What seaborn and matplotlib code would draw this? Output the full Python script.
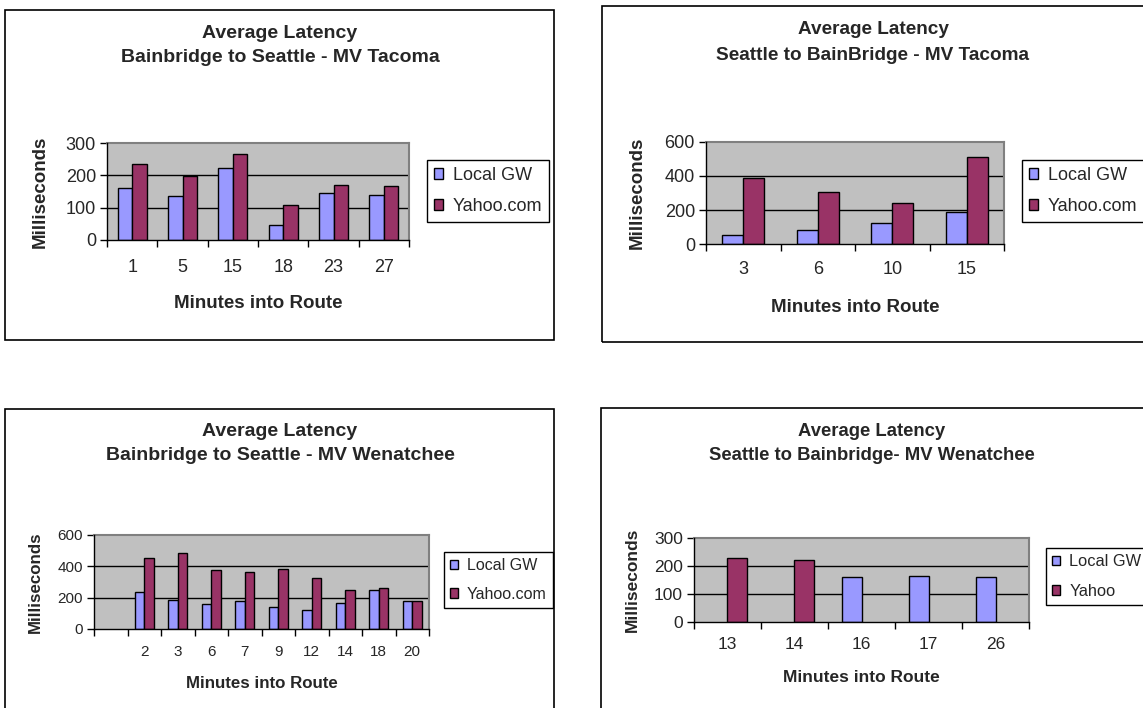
import numpy as np
import pandas as pd
import matplotlib
matplotlib.use("Agg")
import matplotlib.pyplot as plt
from matplotlib.patches import Patch, Rectangle
import seaborn as sns

nan = np.nan

# Bainbridge -> Seattle, MV Tacoma
tacoma_b2s_minutes = ["1", "5", "15", "18", "23", "27"]
tacoma_b2s_local = [160, 135, 223, 45, 145, 139]
tacoma_b2s_yahoo = [234, 197, 265, 108, 171, 166]

# Seattle -> Bainbridge, MV Tacoma
tacoma_s2b_minutes = ["3", "6", "10", "15"]
tacoma_s2b_local = [52, 85, 124, 186]
tacoma_s2b_yahoo = [391, 303, 243, 514]

# Bainbridge -> Seattle, MV Wenatchee (first slot is empty)
wen_b2s_minutes = ["", "2", "3", "6", "7", "9", "12", "14", "18", "20"]
wen_b2s_local = [nan, 236, 187, 162, 179, 139, 122, 168, 246, 179]
wen_b2s_yahoo = [nan, 451, 488, 377, 366, 383, 328, 246, 263, 179]

# Seattle -> Bainbridge, MV Wenatchee
wen_s2b_minutes = ["13", "14", "16", "17", "26"]
wen_s2b_local = [nan, nan, 162, 166, 162]
wen_s2b_yahoo = [229, 223, nan, nan, nan]

sns.set_theme(style="white")
plt.rcParams["font.family"] = ["Liberation Sans", "DejaVu Sans"]

W, H = 1143, 708
fig = plt.figure(figsize=(W / 100, H / 100), dpi=100)
fig.patch.set_facecolor("white")

LOCAL_C = "#9999FF"
YAHOO_C = "#993366"


def fx(x):
    return x / W


def fy(y):
    return 1 - y / H


def chart_box(x0, y0, x1, y1):
    fig.patches.append(Rectangle((fx(x0), fy(y1)), fx(x1 - x0), (y1 - y0) / H,
                                 transform=fig.transFigure, fill=False,
                                 edgecolor="black", linewidth=1.2, zorder=0))


def panel(rect, minutes, local, yahoo, names, ymax, ystep, title, title_xy,
          ylabel_x, xlabel_y, xtick_pad, legend_xy, tick_fs, leg_fs, lab_fs,
          title_fs, leg_spacing):
    x0, y0, x1, y1 = rect
    ax = fig.add_axes([fx(x0), fy(y1), fx(x1 - x0), (y1 - y0) / H])
    df = pd.DataFrame({
        "minute": minutes * 2,
        "ms": list(local) + list(yahoo),
        "series": [names[0]] * len(minutes) + [names[1]] * len(minutes),
    }).dropna()
    sns.barplot(data=df, x="minute", y="ms", hue="series", order=minutes,
                hue_order=names, palette=[LOCAL_C, YAHOO_C], width=0.57,
                dodge=True, edgecolor="black", linewidth=1.0, saturation=1,
                legend=False, errorbar=None, ax=ax, zorder=3)
    ax.set_facecolor("#C0C0C0")
    ax.set_ylim(0, ymax)
    ax.set_xlim(-0.5, len(minutes) - 0.5)
    ax.set_yticks(np.arange(0, ymax + 1, ystep))
    ax.grid(False)
    for v in np.arange(ystep, ymax, ystep):
        ax.axhline(v, color="black", linewidth=1.0, zorder=1)
    for side in ("top", "right"):
        ax.spines[side].set_color("#808080")
        ax.spines[side].set_linewidth(1.5)
    for side in ("left", "bottom"):
        ax.spines[side].set_color("black")
        ax.spines[side].set_linewidth(1.0)
        ax.spines[side].set_zorder(4)
    ax.tick_params(axis="y", direction="out", length=5, width=1, color="black",
                   labelsize=tick_fs, pad=3, left=True)
    ax.set_xticks(np.arange(-0.5, len(minutes), 1.0), minor=True)
    ax.tick_params(axis="x", which="minor", direction="out", length=5, width=1,
                   color="black", bottom=True)
    ax.tick_params(axis="x", which="major", length=0, labelsize=tick_fs,
                   pad=xtick_pad)
    ax.set_xticklabels(minutes)
    ax.set_xlabel("")
    ax.set_ylabel("")
    # Axis titles
    fig.text(fx((x0 + x1) / 2), fy(xlabel_y), "Minutes into Route",
             ha="center", va="center", fontsize=lab_fs, fontweight="bold")
    fig.text(fx(ylabel_x), fy((y0 + y1) / 2), "Milliseconds", rotation=90,
             ha="center", va="center", fontsize=lab_fs, fontweight="bold")
    # Two-line chart title
    tx, ty1, ty2 = title_xy
    fig.text(fx(tx), fy(ty1), title[0], ha="center", va="center",
             fontsize=title_fs, fontweight="bold")
    fig.text(fx(tx), fy(ty2), title[1], ha="center", va="center",
             fontsize=title_fs, fontweight="bold")
    handles = [Patch(facecolor=LOCAL_C, edgecolor="black", linewidth=1.0),
               Patch(facecolor=YAHOO_C, edgecolor="black", linewidth=1.0)]
    leg = ax.legend(handles, names, loc="upper left",
                    bbox_to_anchor=(fx(legend_xy[0]), fy(legend_xy[1])),
                    bbox_transform=fig.transFigure, borderaxespad=0,
                    frameon=True, fancybox=False, edgecolor="black",
                    framealpha=1, fontsize=leg_fs, handlelength=0.5,
                    handleheight=0.5, handletextpad=0.55,
                    labelspacing=leg_spacing, borderpad=0.38)
    leg.get_frame().set_linewidth(1.0)
    return ax


chart_box(5, 10, 554, 340)
chart_box(602, 6, 1160, 342)
chart_box(5, 409, 554, 720)
chart_box(601, 408, 1160, 720)

panel((107, 143, 409, 240), tacoma_b2s_minutes, tacoma_b2s_local,
      tacoma_b2s_yahoo, ["Local GW", "Yahoo.com"], 300, 100,
      ["Average Latency", "Bainbridge to Seattle - MV Tacoma"], (280, 33, 58),
      40, 303, 13.9, (427, 160), 13, 13, 13.5, 14, 0.78)

panel((706, 142, 1004, 244), tacoma_s2b_minutes, tacoma_s2b_local,
      tacoma_s2b_yahoo, ["Local GW", "Yahoo.com"], 600, 200,
      ["Average Latency", "Seattle to BainBridge - MV Tacoma"], (873, 30, 55),
      637, 307, 12.5, (1022, 160), 13, 13, 13.5, 13.7, 0.78)

panel((94, 535, 429, 629), wen_b2s_minutes, wen_b2s_local, wen_b2s_yahoo,
      ["Local GW", "Yahoo.com"], 600, 200,
      ["Average Latency", "Bainbridge to Seattle - MV Wenatchee"],
      (280, 431, 455), 35, 683, 11.2, (444, 552), 11, 11.5, 12.2, 14, 0.85)

panel((694, 538, 1029, 622), wen_s2b_minutes, wen_s2b_local, wen_s2b_yahoo,
      ["Local GW", "Yahoo"], 300, 100,
      ["Average Latency", "Seattle to Bainbridge- MV Wenatchee"],
      (872, 432, 456), 632, 678, 10.6, (1046, 548), 12.5, 11.8, 12.5, 13.3,
      0.9)

fig.savefig("out.png", dpi=100, facecolor="white")
